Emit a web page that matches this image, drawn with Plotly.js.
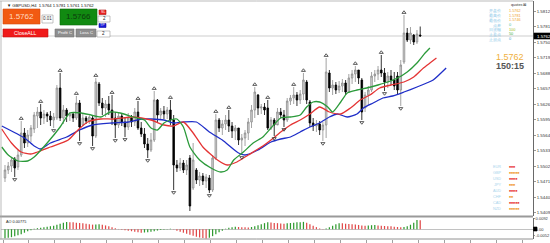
<!DOCTYPE html>
<html><head><meta charset="utf-8">
<script src="https://cdn.plot.ly/plotly-3.0.1.min.js"></script>
<style>html,body{margin:0;padding:0;background:#fff;}#chart{width:550px;height:243px;}</style>
</head><body><div id="chart"></div>
<script>
// ---------------- data ----------------
const symbolTitle = "GBPUSD,H4  1.5764 1.5781 1.5761 1.5762";
const open = [1.5478,1.5494,1.5502,1.5516,1.5500,1.5524,1.5568,1.5548,1.5562,1.5576,
1.5602,1.5610,1.5598,1.5606,1.5602,1.5594,1.5598,1.5658,1.5598,1.5614,
1.5602,1.5606,1.5598,1.5628,1.5584,1.5598,1.5592,1.5598,1.5562,1.5666,
1.5628,1.5618,1.5626,1.5614,1.5598,1.5584,1.5602,1.5590,1.5580,1.5598,
1.5590,1.5610,1.5578,1.5566,1.5546,1.5534,1.5554,1.5634,1.5604,1.5612,
1.5606,1.5614,1.5594,1.5504,1.5498,1.5508,1.5494,1.5518,1.5458,1.5494,
1.5474,1.5482,1.5472,1.5478,1.5454,1.5518,1.5594,1.5578,1.5586,1.5594,
1.5582,1.5572,1.5578,1.5554,1.5558,1.5568,1.5590,1.5614,1.5644,1.5618,
1.5620,1.5618,1.5578,1.5594,1.5584,1.5610,1.5604,1.5594,1.5632,1.5638,
1.5644,1.5634,1.5646,1.5670,1.5630,1.5588,1.5582,1.5586,1.5574,1.5584,
1.5688,1.5658,1.5664,1.5654,1.5662,1.5668,1.5650,1.5678,1.5686,1.5694,
1.5674,1.5618,1.5644,1.5654,1.5682,1.5686,1.5694,1.5688,1.5670,1.5682,
1.5674,1.5682,1.5654,1.5710,1.5768,1.5754,1.5764,1.5750,1.5764];
const high = [1.5504,1.5510,1.5518,1.5520,1.5534,1.5592,1.5578,1.5574,1.5584,1.5610,
1.5620,1.5626,1.5614,1.5610,1.5612,1.5608,1.5664,1.5688,1.5624,1.5618,
1.5610,1.5608,1.5642,1.5634,1.5606,1.5602,1.5606,1.5602,1.5678,1.5670,
1.5638,1.5634,1.5642,1.5644,1.5610,1.5608,1.5606,1.5600,1.5608,1.5604,
1.5618,1.5632,1.5590,1.5578,1.5558,1.5568,1.5652,1.5636,1.5618,1.5622,
1.5620,1.5634,1.5604,1.5514,1.5518,1.5514,1.5514,1.5524,1.5548,1.5498,
1.5490,1.5488,1.5486,1.5484,1.5524,1.5606,1.5598,1.5594,1.5604,1.5614,
1.5590,1.5584,1.5578,1.5566,1.5574,1.5598,1.5624,1.5660,1.5646,1.5626,
1.5628,1.5634,1.5600,1.5598,1.5618,1.5618,1.5614,1.5638,1.5644,1.5660,
1.5650,1.5654,1.5688,1.5674,1.5634,1.5598,1.5594,1.5592,1.5590,1.5718,
1.5694,1.5674,1.5670,1.5672,1.5676,1.5674,1.5686,1.5694,1.5702,1.5694,
1.5678,1.5650,1.5662,1.5690,1.5694,1.5702,1.5724,1.5698,1.5690,1.5694,
1.5690,1.5690,1.5714,1.5804,1.5778,1.5780,1.5766,1.5774,1.5781];
const low = [1.5470,1.5486,1.5490,1.5480,1.5494,1.5520,1.5538,1.5540,1.5550,1.5568,
1.5578,1.5584,1.5586,1.5590,1.5582,1.5578,1.5594,1.5592,1.5586,1.5590,
1.5592,1.5590,1.5594,1.5552,1.5582,1.5586,1.5586,1.5542,1.5558,1.5622,
1.5604,1.5600,1.5604,1.5584,1.5558,1.5578,1.5582,1.5560,1.5574,1.5580,
1.5582,1.5574,1.5560,1.5538,1.5518,1.5530,1.5550,1.5590,1.5594,1.5596,
1.5596,1.5584,1.5454,1.5490,1.5492,1.5488,1.5484,1.5412,1.5454,1.5466,
1.5462,1.5464,1.5458,1.5448,1.5450,1.5514,1.5570,1.5564,1.5574,1.5570,
1.5558,1.5554,1.5544,1.5524,1.5542,1.5554,1.5578,1.5598,1.5604,1.5606,
1.5604,1.5574,1.5574,1.5562,1.5586,1.5598,1.5580,1.5590,1.5624,1.5626,
1.5622,1.5626,1.5634,1.5626,1.5580,1.5572,1.5570,1.5564,1.5552,1.5558,
1.5650,1.5644,1.5646,1.5648,1.5650,1.5644,1.5648,1.5666,1.5670,1.5666,
1.5594,1.5610,1.5624,1.5650,1.5670,1.5674,1.5680,1.5652,1.5658,1.5664,
1.5654,1.5644,1.5622,1.5706,1.5750,1.5746,1.5744,1.5746,1.5761];
const close = [1.5494,1.5502,1.5514,1.5498,1.5524,1.5568,1.5548,1.5564,1.5578,1.5604,
1.5610,1.5598,1.5606,1.5602,1.5594,1.5600,1.5658,1.5598,1.5614,1.5602,
1.5606,1.5598,1.5628,1.5580,1.5598,1.5592,1.5600,1.5562,1.5670,1.5628,
1.5618,1.5626,1.5614,1.5598,1.5584,1.5602,1.5590,1.5580,1.5598,1.5590,
1.5610,1.5578,1.5566,1.5546,1.5534,1.5554,1.5634,1.5604,1.5612,1.5606,
1.5614,1.5594,1.5504,1.5498,1.5508,1.5494,1.5504,1.5422,1.5514,1.5474,
1.5482,1.5472,1.5480,1.5454,1.5518,1.5594,1.5578,1.5586,1.5594,1.5582,
1.5572,1.5578,1.5554,1.5558,1.5568,1.5590,1.5614,1.5650,1.5618,1.5620,
1.5614,1.5578,1.5594,1.5584,1.5610,1.5604,1.5594,1.5632,1.5638,1.5644,
1.5634,1.5646,1.5674,1.5634,1.5588,1.5582,1.5586,1.5574,1.5584,1.5690,
1.5658,1.5664,1.5654,1.5662,1.5668,1.5650,1.5678,1.5686,1.5694,1.5678,
1.5610,1.5644,1.5654,1.5682,1.5686,1.5694,1.5688,1.5670,1.5682,1.5674,
1.5662,1.5654,1.5704,1.5768,1.5754,1.5768,1.5750,1.5766,1.5762];

const fractalUp = [5,11,17,22,28,33,41,46,51,65,69,77,81,89,92,99,108,116,123];
const fractalDown = [3,15,23,27,34,37,44,52,63,73,83,86,98,110,117,122];

// Alligator lines (shifted forward), read as bar position / price
const jawX = [-1,6,9,11,14,19,23,27,33,38,42,45,49,52,55,59,63,67,72,74,78,82,85,88,91,94,97,100,102.5,105.5,108.5,110.5,113.5,116.5,119.5,123,127,130,132,136];
const jawY = [1.5582,1.5558,1.5542,1.5536,1.5548,1.5560,1.5574,1.5584,1.5588,1.5590,1.5596,1.5596,1.5594,1.5588,1.5590,1.5590,1.5570,1.5554,1.5528,1.5524,1.5534,1.5550,1.5556,1.5560,1.5570,1.5580,1.5588,1.5600,1.5606,1.5600,1.5606,1.5618,1.5628,1.5638,1.5642,1.5650,1.5660,1.5668,1.5674,1.5698];
const teethX = [-1,2,5,8,10,14,19.5,22.5,25.5,29.5,33.5,39.5,45,49,52,55,58,61,65.5,68.5,71.5,75,79.5,82,85,88,91,94,97,100,103.5,106.5,109.5,112.5,115.5,119,123,126,129,131,133];
const teethY = [1.5576,1.5548,1.5530,1.5526,1.5530,1.5540,1.5554,1.5574,1.5590,1.5596,1.5596,1.5600,1.5594,1.5584,1.5582,1.5590,1.5568,1.5540,1.5514,1.5504,1.5510,1.5524,1.5542,1.5554,1.5570,1.5584,1.5594,1.5606,1.5620,1.5610,1.5606,1.5618,1.5634,1.5644,1.5658,1.5664,1.5670,1.5680,1.5698,1.5708,1.5718];
const lipsX = [-1,1,4,7,9,13,17,20,23.5,26.5,29.5,32.5,35.5,39.5,43,45,47,49,51,53,55,57,60,63.5,66.5,68.5,70.5,73.5,76.5,79.5,82,85,88,91,93,95,97,99.5,101,103.5,105.5,108.5,111.5,115,118,121,124,127,129.5,131];
const lipsY = [1.5540,1.5524,1.5512,1.5512,1.5520,1.5548,1.5580,1.5608,1.5608,1.5604,1.5600,1.5610,1.5608,1.5600,1.5594,1.5578,1.5574,1.5588,1.5594,1.5596,1.5580,1.5540,1.5514,1.5498,1.5490,1.5494,1.5514,1.5530,1.5548,1.5560,1.5578,1.5598,1.5600,1.5604,1.5620,1.5630,1.5630,1.5620,1.5610,1.5630,1.5648,1.5654,1.5658,1.5664,1.5670,1.5678,1.5690,1.5708,1.5728,1.5738];

// Awesome Oscillator
const ao = [-0.0079,-0.0074,-0.0070,-0.0061,-0.0053,-0.0044,-0.0031,-0.0018,-0.0009,0.0004,
0.0009,0.0013,0.0018,0.0022,0.0026,0.0031,0.0039,0.0048,0.0057,0.0064,
0.0061,0.0060,0.0057,0.0054,0.0051,0.0048,0.0044,0.0040,0.0042,0.0044,
0.0039,0.0033,0.0026,0.0018,0.0009,0.0002,-0.0004,-0.0009,-0.0013,-0.0018,
-0.0022,-0.0026,-0.0032,-0.0029,-0.0026,-0.0022,-0.0018,-0.0012,-0.0007,-0.0004,
0.0002,0.0004,-0.0003,-0.0013,-0.0022,-0.0031,-0.0039,-0.0048,-0.0057,-0.0066,
-0.0073,-0.0077,-0.0081,-0.0074,-0.0061,-0.0044,-0.0026,-0.0013,0.0004,0.0013,
0.0018,0.0021,0.0019,0.0018,0.0016,0.0015,0.0019,0.0026,0.0035,0.0044,
0.0053,0.0060,0.0058,0.0055,0.0053,0.0050,0.0048,0.0051,0.0054,0.0057,
0.0060,0.0061,0.0064,0.0057,0.0044,0.0031,0.0018,0.0007,0.0002,0.0005,
0.0018,0.0031,0.0044,0.0053,0.0051,0.0048,0.0046,0.0044,0.0040,0.0037,
0.0033,0.0031,0.0032,0.0035,0.0037,0.0033,0.0031,0.0028,0.0026,0.0025,
0.0022,0.0019,0.0018,0.0020,0.0026,0.0039,0.0057,0.0081,0.00775];
const aoLabel = "AO 0.00775";

const priceTicks = [1.5409,1.5440,1.5471,1.5502,1.5533,1.5564,1.5595,1.5626,1.5657,1.5688,1.5719,1.5750,1.5781,1.5812];
const aoTicks = [0.0092,0,-0.0052];
const aoTickText = ["0.0092","0.00","-0.0052"];
const lastPrice = 1.5762;
const bidText = "1.5762", askText = "1.5766", lotText = "0.01";
const infoLabels = ["开盘价","最高价","最低价","点差","日波幅","止盈点","止损点"];
const infoValues = ["1.5762","1.5781","1.5746","0","100","50","0"];
const infoValueColors = ["#f0a030","#f0a030","#f0a030","#40c0a0","#a0c020","#40b040","#40a0d0"];
const bigPrice = "1.5762", timer = "150:15";
const currencies = ["EUR","GBP","USD","JPY","AUD","CHF","CAD","NZD"];
const currencyBars = ["■■■","■■■■■","■■■■","■■■","■■■■","■■","■■■■■","■■■■■"];

// ---------------- layout helpers (pixel -> paper) ----------------
const Lm=1, Rm=17, Tm=1, Bm=4, W=550-Lm-Rm, H=243-Tm-Bm;
const px = x => (x-Lm)/W;
const py = y => 1-(y-Tm)/H;
const FONT = "Liberation Sans, Arial, sans-serif";
function rect(x0,y0,x1,y1,fill,lc,lw){return {type:'rect',xref:'paper',yref:'paper',x0:px(x0),x1:px(x1),y0:py(y1),y1:py(y0),fillcolor:fill,line:{color:lc||fill,width:lw===undefined?0.6:lw},layer:'above'};}
function txt(x,y,t,size,color,anchor,bold){return {xref:'paper',yref:'paper',x:px(x),y:py(y),text:bold?'<b>'+t+'</b>':t,showarrow:false,font:{size:size,color:color,family:FONT},xanchor:anchor||'center',yanchor:'middle'};}

const idx = open.map((_,i)=>i);
const aoColors = ao.map((v,i)=> (i===0 || v>ao[i-1]) ? '#2f9a2f' : '#e04848');

const traces = [
 {type:'candlestick', x:idx, open:open, high:high, low:low, close:close, xaxis:'x', yaxis:'y',
  increasing:{line:{color:'#8c8c8c',width:0.8},fillcolor:'#d6d6d6'},
  decreasing:{line:{color:'#000000',width:0.8},fillcolor:'#000000'},
  whiskerwidth:0, hoverinfo:'skip', showlegend:false},
 {type:'scatter', mode:'lines', x:jawX, y:jawY, line:{color:'#1f2ec8',width:1.3,shape:'spline',smoothing:0.6}, xaxis:'x', yaxis:'y', hoverinfo:'skip'},
 {type:'scatter', mode:'lines', x:teethX, y:teethY, line:{color:'#e43434',width:1.3,shape:'spline',smoothing:0.6}, xaxis:'x', yaxis:'y', hoverinfo:'skip'},
 {type:'scatter', mode:'lines', x:lipsX, y:lipsY, line:{color:'#2b9a3a',width:1.3,shape:'spline',smoothing:0.6}, xaxis:'x', yaxis:'y', hoverinfo:'skip'},
 {type:'scatter', mode:'markers', x:fractalUp, y:fractalUp.map(i=>high[i]+0.0005), marker:{symbol:'triangle-up-open',size:3.5,color:'#333',line:{width:0.8,color:'#333'}}, xaxis:'x', yaxis:'y', hoverinfo:'skip'},
 {type:'scatter', mode:'markers', x:fractalDown, y:fractalDown.map(i=>low[i]-0.0005), marker:{symbol:'triangle-down-open',size:3.5,color:'#333',line:{width:0.8,color:'#333'}}, xaxis:'x', yaxis:'y', hoverinfo:'skip'},
 {type:'bar', x:idx, y:ao, marker:{color:aoColors,line:{width:0}}, width:0.38, xaxis:'x', yaxis:'y2', hoverinfo:'skip'}
];

const shapes = [
 {type:'line',xref:'paper',yref:'y',x0:0,x1:1,y0:lastPrice,y1:lastPrice,line:{color:'#b8b8b8',width:0.7},layer:'below'},
 {type:'line',xref:'paper',yref:'paper',x0:px(0),x1:px(533),y0:py(216.5),y1:py(216.5),line:{color:'#9a9a9a',width:2}},
 {type:'line',xref:'paper',yref:'paper',x0:px(0),x1:px(533),y0:py(239),y1:py(239),line:{color:'#777',width:0.8}},
 {type:'line',xref:'paper',yref:'paper',x0:px(0),x1:px(533),y0:py(1),y1:py(1),line:{color:'#aaa',width:0.8}},
 {type:'line',xref:'paper',yref:'paper',x0:px(1),x1:px(1),y0:py(1),y1:py(239),line:{color:'#aaa',width:0.8}},
 rect(3,9,40,24,'#f25a12','#d04a10'),
 rect(42,15,53,23,'#ffffff','#9a9a9a'),
 rect(60,9,97,25,'#118a11','#0a6a0a'),
 rect(99,10,106,14.5,'#e82020','#b01010'),
 rect(98,16,110,22,'#ffffff','#9a9a9a'),
 rect(99,23.5,106,27.5,'#1818d8','#1010a0'),
 rect(3,29,48,37,'#f01a1a','#c01010'),
 rect(55,29,74,37,'#8e8e8e','#777'),
 rect(76,29,96,37,'#8e8e8e','#777'),
 rect(97,31,110,37,'#ffffff','#9a9a9a'),
 rect(534,33,550,39,'#000000','#000000'),
 rect(533.5,227,537,231,'#000000','#000000')
];

const annotations = [
 txt(5,5.5,'▼ '+symbolTitle,4.2,'#111','left'),
 txt(21.5,16.5,bidText,8,'#ffd9c0','center'),
 txt(47.5,19,lotText,4.5,'#333','center'),
 txt(78.5,17,askText,8,'#0d3d0d','center'),
 txt(102.5,12.3,'SL',3.6,'#fff','center'),
 txt(104,19,'2',4.5,'#222','center'),
 txt(102.5,25.5,'TP',3.6,'#fff','center'),
 txt(25.5,33,'CloseALL',5.2,'#fff','center'),
 txt(64.5,33,'Profit C',4.2,'#fff','center'),
 txt(86,33,'Loss C',4.2,'#fff','center'),
 txt(103.5,34,'2',4.5,'#222','center'),
 txt(4,221.5,aoLabel,3.8,'#222','left'),
 txt(535,36,lastPrice.toFixed(4),4.4,'#fff','left'),
 txt(518,5,'quotes ⊠',3.8,'#333','center'),
 txt(510,57,bigPrice,9,'#f0b040','center'),
 txt(510,66,timer,9,'#555','center',true)
];
infoLabels.forEach((t,k)=>{
  const y = 11 + k*4.7;
  annotations.push(txt(503,y,t,3.8,'#8cc8e8','right'));
  annotations.push(txt(507,y,infoValues[k],3.8,infoValueColors[k],'left'));
});
currencies.forEach((c,k)=>{
  const y = 167 + k*6;
  annotations.push(txt(503,y,c,3.8,'#a8d4ec','right'));
  annotations.push(txt(507,y,currencyBars[k],3.4,k%2?'#f0a040':'#e84040','left'));
});

const layout = {
 width:550, height:243, margin:{l:Lm,r:Rm,t:Tm,b:Bm}, paper_bgcolor:'#ffffff', plot_bgcolor:'#ffffff',
 showlegend:false, boxgap:0.3,
 xaxis:{range:[-1.23,162.77], anchor:'y2', showgrid:false, zeroline:false, showticklabels:false,
   ticks:'outside', ticklen:3, tickwidth:0.7, tickcolor:'#777', tick0:-0.6, dtick:8,
   rangeslider:{visible:false}, showline:false, fixedrange:true},
 yaxis:{domain:[py(216),1], range:[1.5402,1.5832], side:'right', showgrid:false, zeroline:false,
   tickvals:priceTicks, ticktext:priceTicks.map(v=>v.toFixed(4)), ticks:'outside', ticklen:2, tickwidth:0.6, tickcolor:'#555',
   tickfont:{size:4.4,color:'#333',family:FONT}, showline:true, linecolor:'#444', linewidth:0.8, anchor:'x'},
 yaxis2:{domain:[0,py(218)], range:[-0.0086,0.0098], side:'right', showgrid:false, zeroline:true, zerolinecolor:'#999', zerolinewidth:0.6,
   tickvals:aoTicks, ticktext:aoTickText, ticks:'outside', ticklen:1, tickwidth:0.6, tickcolor:'#555', ticklabelstandoff:0,
   tickfont:{size:4,color:'#333',family:FONT}, showline:true, linecolor:'#444', linewidth:0.8, anchor:'x'},
 shapes:shapes, annotations:annotations
};
Plotly.newPlot('chart', traces, layout, {staticPlot:true, displayModeBar:false});
</script></body></html>
